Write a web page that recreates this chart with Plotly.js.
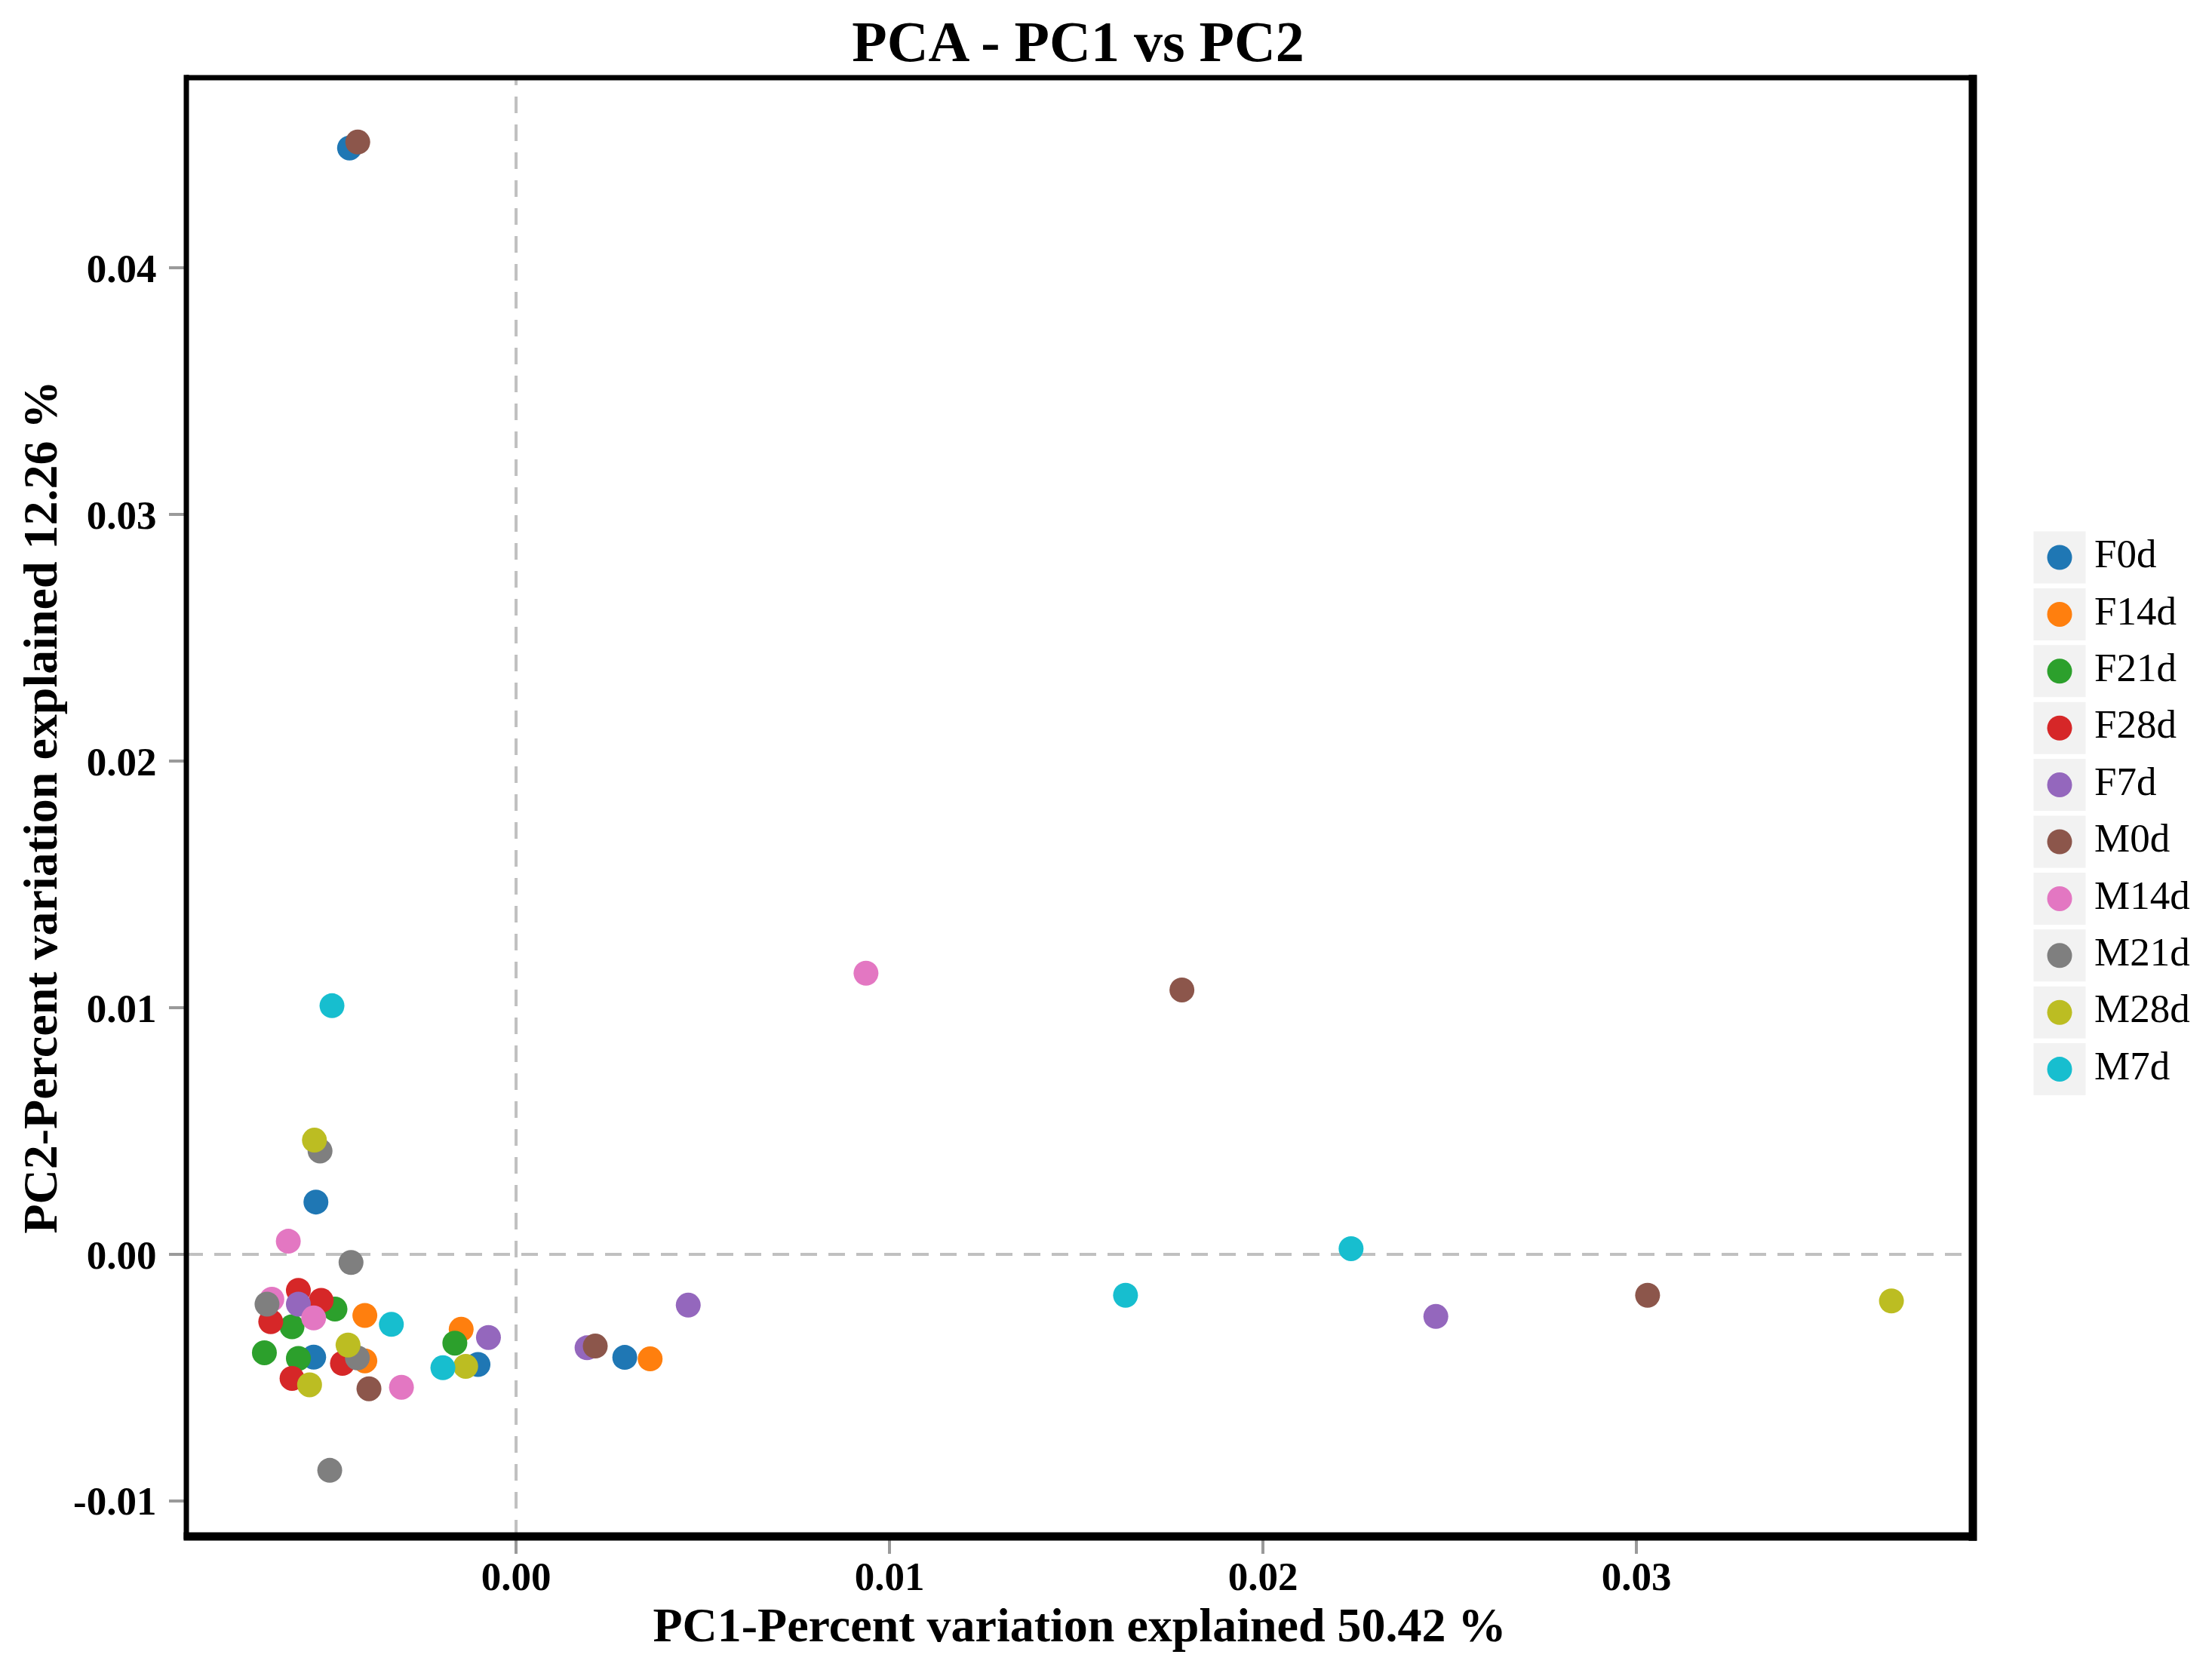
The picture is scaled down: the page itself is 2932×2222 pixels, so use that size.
<!DOCTYPE html>
<html>
<head>
<meta charset="utf-8">
<script src="https://cdn.plot.ly/plotly-3.0.1.min.js"></script>
<style>
  html, body { margin: 0; padding: 0; background: #fff; }
  #pca { width: 2932px; height: 2222px; }
</style>
</head>
<body>
<div id="pca"></div>
<script>
// groups in legend order
let groups = ['F0d', 'F14d', 'F21d', 'F28d', 'F7d', 'M0d', 'M14d', 'M21d', 'M28d', 'M7d'];
let colors = ['#1f77b4', '#ff7f0e', '#2ca02c', '#d62728', '#9467bd',
              '#8c564b', '#e377c2', '#7f7f7f', '#bcbd22', '#17becf'];

// PC1 / PC2 scores
let f0dPC1 = [-0.00446, -0.00536, -0.00542, -0.00102, 0.00291];
let f0dPC2 = [0.04486, 0.00212, -0.00417, -0.00447, -0.00418];
let f14dPC1 = [-0.00405, -0.00405, -0.00147, 0.00359];
let f14dPC2 = [-0.00248, -0.00432, -0.00304, -0.00424];
let f21dPC1 = [-0.00485, -0.00600, -0.00674, -0.00583, -0.00164];
let f21dPC2 = [-0.00222, -0.00294, -0.00399, -0.00422, -0.00360];
let f28dPC1 = [-0.00583, -0.00522, -0.00657, -0.00600, -0.00465];
let f28dPC2 = [-0.00146, -0.00187, -0.00273, -0.00503, -0.00442];
let f7dPC1 = [-0.00583, -0.00074, 0.00190, 0.00461, 0.02463];
let f7dPC2 = [-0.00202, -0.00337, -0.00379, -0.00206, -0.00252];
let m0dPC1 = [-0.00424, -0.00394, 0.00212, 0.01783, 0.03030];
let m0dPC2 = [0.04510, -0.00545, -0.00372, 0.01072, -0.00166];
let m14dPC1 = [-0.00610, -0.00654, -0.00542, -0.00307, 0.00937];
let m14dPC2 = [0.00053, -0.00182, -0.00258, -0.00539, 0.01140];
let m21dPC1 = [-0.00525, -0.00442, -0.00667, -0.00425, -0.00499];
let m21dPC2 = [0.00419, -0.00033, -0.00202, -0.00420, -0.00876];
let m28dPC1 = [-0.00540, -0.00450, -0.00553, -0.00135, 0.03683];
let m28dPC2 = [0.00463, -0.00368, -0.00529, -0.00454, -0.00189];
let m7dPC1 = [-0.00493, -0.00334, -0.00196, 0.01632, 0.02236];
let m7dPC2 = [0.01008, -0.00284, -0.00460, -0.00166, 0.00023];

let pc1 = [f0dPC1, f14dPC1, f21dPC1, f28dPC1, f7dPC1, m0dPC1, m14dPC1, m21dPC1, m28dPC1, m7dPC1];
let pc2 = [f0dPC2, f14dPC2, f21dPC2, f28dPC2, f7dPC2, m0dPC2, m14dPC2, m21dPC2, m28dPC2, m7dPC2];

let xTickVals = [0, 0.01, 0.02, 0.03];
let xTickText = ['0.00', '0.01', '0.02', '0.03'];
let yTickVals = [-0.01, 0, 0.01, 0.02, 0.03, 0.04];
let yTickText = ['-0.01', '0.00', '0.01', '0.02', '0.03', '0.04'];

let serif = '"Liberation Serif", "Times New Roman", serif';

let data = groups.map(function (g, i) {
  return {
    x: pc1[i],
    y: pc2[i],
    type: 'scatter',
    mode: 'markers',
    name: g,
    showlegend: false,
    hoverinfo: 'skip',
    marker: { color: colors[i], size: 33, line: { width: 0 } }
  };
});

// hand made legend on its own axes (plotly caps legend symbols at 16px)
let keyRows = groups.map(function (g, i) { return i; });

data.push({
  x: groups.map(function () { return 40; }),
  y: keyRows,
  xaxis: 'x2', yaxis: 'y2',
  type: 'scatter', mode: 'markers', showlegend: false, hoverinfo: 'skip',
  marker: { symbol: 'square', size: 69, color: '#f2f2f2', line: { width: 0 } }
});
data.push({
  x: groups.map(function () { return 40; }),
  y: keyRows,
  xaxis: 'x2', yaxis: 'y2',
  type: 'scatter', mode: 'markers', showlegend: false, hoverinfo: 'skip',
  marker: { size: 33, color: colors, line: { width: 0 } }
});
data.push({
  x: groups.map(function () { return 86; }),
  y: keyRows,
  text: groups,
  xaxis: 'x2', yaxis: 'y2',
  type: 'scatter', mode: 'text', textposition: 'middle right', showlegend: false, hoverinfo: 'skip',
  textfont: { family: serif, size: 53, color: '#000' }
});

let tickFont = { family: serif, size: 53, weight: 'bold', color: '#000' };
let axTitleFont = { family: serif, size: 64, weight: 'bold', color: '#000' };

let layout = {
  width: 2932,
  height: 2222,
  margin: { l: 0, r: 0, t: 0, b: 0 },
  paper_bgcolor: '#fff',
  plot_bgcolor: '#fff',
  font: { family: serif, color: '#000' },
  showlegend: false,
  hovermode: false,
  title: {
    text: 'PCA - PC1 vs PC2',
    font: { family: serif, size: 76, weight: 'bold', color: '#000' },
    x: 0.4874, xref: 'paper', xanchor: 'center',
    y: 0.9755, yref: 'container', yanchor: 'middle'
  },
  xaxis: {
    domain: [247 / 2932, 2615 / 2932],
    range: [-0.00883, 0.03901],
    showgrid: false, zeroline: false, showline: false,
    ticks: 'outside', ticklen: 22, tickwidth: 4, tickcolor: '#9a9a9a',
    tickvals: xTickVals, ticktext: xTickText,
    tickfont: tickFont, ticklabelstandoff: -16,
    title: { text: 'PC1-Percent variation explained 50.42 %', font: axTitleFont, standoff: 12 },
    fixedrange: true
  },
  yaxis: {
    domain: [185 / 2222, 2119 / 2222],
    range: [-0.01144, 0.04771],
    showgrid: false, zeroline: false, showline: false,
    ticks: 'outside', ticklen: 22, tickwidth: 4, tickcolor: '#9a9a9a',
    tickvals: yTickVals, ticktext: yTickText,
    tickfont: tickFont, ticklabelstandoff: 6,
    title: { text: 'PC2-Percent variation explained 12.26 %', font: axTitleFont, standoff: 0 },
    fixedrange: true
  },
  xaxis2: {
    domain: [2690 / 2932, 1], range: [0, 242], anchor: 'y2',
    visible: false, fixedrange: true
  },
  yaxis2: {
    domain: [0, 1], range: [19.668, -9.801], anchor: 'x2',
    visible: false, fixedrange: true
  },
  shapes: [
    // dashed zero lines
    { type: 'line', xref: 'x', yref: 'y domain', x0: 0, x1: 0, y0: 0, y1: 1, layer: 'below',
      line: { color: '#c0c0c0', width: 4, dash: '22px,15px' } },
    { type: 'line', xref: 'x domain', yref: 'y', x0: 0, x1: 1, y0: 0, y1: 0, layer: 'below',
      line: { color: '#c0c0c0', width: 4, dash: '22px,15px' } },
    // panel frame
    { type: 'line', xref: 'x domain', yref: 'y domain', x0: 0, x1: 0, y0: -0.002, y1: 1.002, layer: 'above',
      line: { color: '#000', width: 7 } },
    { type: 'line', xref: 'x domain', yref: 'y domain', x0: 0, x1: 1.002, y0: 1, y1: 1, layer: 'above',
      line: { color: '#000', width: 7 } },
    { type: 'line', xref: 'x domain', yref: 'y domain', x0: 1, x1: 1, y0: -0.003, y1: 1.002, layer: 'above',
      line: { color: '#000', width: 11 } },
    { type: 'line', xref: 'x domain', yref: 'y domain', x0: -0.0015, x1: 1.002, y0: 0, y1: 0, layer: 'above',
      line: { color: '#000', width: 11 } }
  ]
};

Plotly.newPlot('pca', data, layout, { staticPlot: true, displayModeBar: false });
</script>
</body>
</html>
